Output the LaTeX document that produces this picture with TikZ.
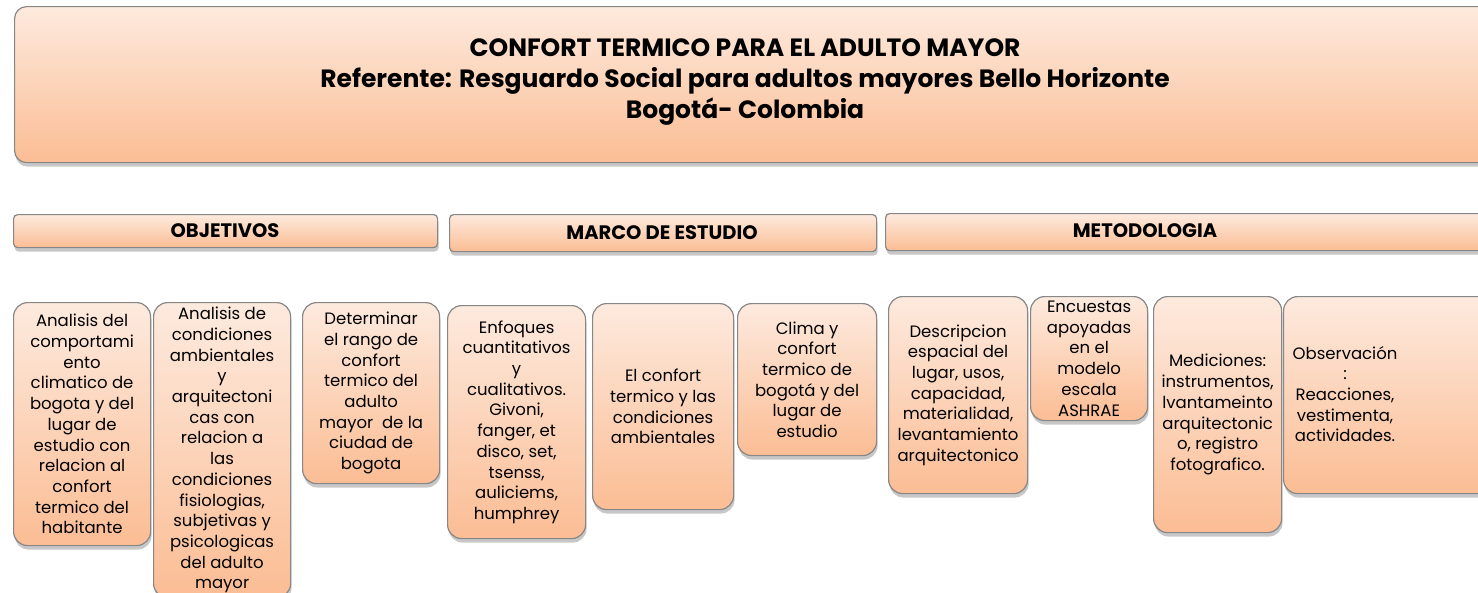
\documentclass[tikz,border=0pt]{standalone}
\usepackage{fontspec}
\setmainfont{Poppins}
\usetikzlibrary{shadows}
\definecolor{pchtop}{RGB}{253,234,222}
\definecolor{pchbot}{RGB}{251,189,148}
\definecolor{edgec}{RGB}{135,135,135}
\tikzset{
 base/.style={draw=edgec, line width=1.2pt, top color=pchtop, bottom color=pchbot,
   drop shadow={shadow xshift=1pt, shadow yshift=-4pt, opacity=0.22, fill=black}},
 titlebox/.style={base, rounded corners=12pt, anchor=north west},
 headbox/.style={base, rounded corners=4pt, anchor=north west},
 cardbox/.style={base, rounded corners=14pt, anchor=north west},
 cardtext/.style={align=center, font=\fontsize{16.5}{20.7}\selectfont, inner sep=0pt},
 headtext/.style={font=\fontsize{19.5}{22}\selectfont\bfseries, inner sep=0pt},
 titletext/.style={align=center, font=\fontsize{25}{31.3}\selectfont\bfseries, inner sep=0pt},
}
\begin{document}
\begin{tikzpicture}[x=1pt,y=-1pt]
\useasboundingbox (0,0) rectangle (1478,592);
\clip (0,0) rectangle (1478,592);
% title
\node[titlebox, minimum width=1520pt, minimum height=156pt] (tb) at (14,6) {};
\node[titletext] (tt) at (745,82) {CONFORT TERMICO PARA EL ADULTO MAYOR\\Referente: Resguardo Social para adultos mayores Bello Horizonte\\Bogotá- Colombia};
% headers
\node[headbox, minimum width=424pt, minimum height=33pt] (h1) at (13,214) {};
\node[headtext] (h1t) at (225,231) {OBJETIVOS};
\node[headbox, minimum width=427pt, minimum height=37pt] (h2) at (449,214) {};
\node[headtext] (h2t) at (662,233) {MARCO DE ESTUDIO};
\node[headbox, minimum width=640pt, minimum height=37pt] (h3) at (885,213) {};
\node[headtext] (h3t) at (1145,231) {METODOLOGIA};
% cards
\node[cardbox, minimum width=137pt, minimum height=243pt] (b1) at (13,302) {};
\node[cardtext] (b1t) at (b1.center) {Analisis del\\comportami\\ento\\climatico de\\bogota y del\\lugar de\\estudio con\\relacion al\\confort\\termico del\\habitante};
\node[cardbox, minimum width=137pt, minimum height=295pt] (b2) at (153,302) {};
\node[cardtext] (b2t) at (b2.center) {Analisis de\\condiciones\\ambientales\\y\\arquitectoni\\cas con\\relacion a\\las\\condiciones\\fisiologias,\\subjetivas y\\psicologicas\\del adulto\\mayor};
\node[cardbox, minimum width=137pt, minimum height=181pt] (b3) at (302,302) {};
\node[cardtext] (b3t) at (b3.center) {Determinar\\el rango de\\confort\\termico del\\adulto\\mayor\ \ de la\\ciudad de\\bogota};
\node[cardbox, minimum width=138pt, minimum height=233pt] (b4) at (447,305) {};
\node[cardtext] (b4t) at (b4.center) {Enfoques\\cuantitativos\\y\\cualitativos.\\Givoni,\\fanger, et\\disco, set,\\tsenss,\\auliciems,\\humphrey};
\node[cardbox, minimum width=141pt, minimum height=206pt] (b5) at (592,303) {};
\node[cardtext] (b5t) at (b5.center) {El confort\\termico y las\\condiciones\\ambientales};
\node[cardbox, minimum width=139pt, minimum height=152pt] (b6) at (737,303) {};
\node[cardtext] (b6t) at (b6.center) {Clima y\\confort\\termico de\\bogotá y del\\lugar de\\estudio};
\node[cardbox, minimum width=139pt, minimum height=197pt] (b7) at (888,296) {};
\node[cardtext] (b7t) at (b7.center) {Descripcion\\espacial del\\lugar, usos,\\capacidad,\\materialidad,\\levantamiento\\arquitectonico};
\node[cardbox, minimum width=117pt, minimum height=124pt] (b8) at (1030,296) {};
\node[cardtext] (b8t) at (b8.center) {Encuestas\\apoyadas\\en el\\modelo\\escala\\ASHRAE};
\node[cardbox, minimum width=128pt, minimum height=236pt] (b9) at (1153,296) {};
\node[cardtext] (b9t) at (b9.center) {Mediciones:\\instrumentos,\\lvantameinto\\arquitectonic\\o, registro\\fotografico.};
\node[cardbox, minimum width=220pt, minimum height=197pt] (b10) at (1283,296) {};
\node[cardtext] (b10t) at (1345,394) {Observación\\:\\Reacciones,\\vestimenta,\\actividades.};
\end{tikzpicture}
\end{document}
